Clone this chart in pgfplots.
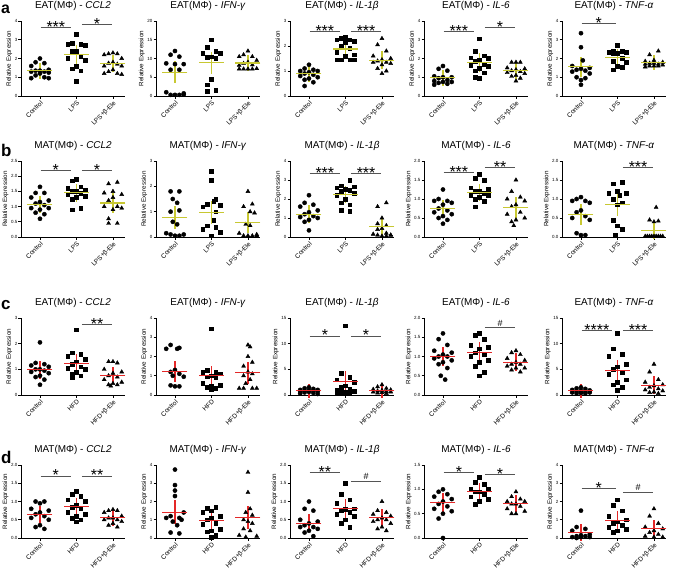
\documentclass[border=0pt]{standalone}
\usepackage{fontspec}
\setmainfont{Liberation Sans}
\usepackage{pgfplots}
\pgfplotsset{compat=1.18}
\definecolor{ylw}{RGB}{200,200,50}
\definecolor{rd}{RGB}{228,40,40}
\definecolor{sg}{RGB}{85,85,85}
\pgfplotsset{
 panel/.style={scale only axis, width=104bp, anchor=north west,
  axis lines=left, axis line style={-, line width=0.8bp, black},
  xmin=-0.52, xmax=2.33, ymin=0, xtick={0,1,2},
  tick align=outside, tick pos=left, major tick length=2.5bp,
  tick style={line width=0.7bp, black}, clip=false,
  /pgf/number format/assume math mode=true,
  yticklabel style={font=\fontsize{4.5}{5}\selectfont, inner sep=1bp},
  x tick label style={rotate=45, anchor=north east, font=\fontsize{6.5}{7}\selectfont, inner sep=1bp},
  ylabel={Relative Expression}, ylabel style={font=\fontsize{6.3}{7}\selectfont, yshift=-2bp},
  title style={font=\fontsize{10}{12}\selectfont, yshift=1bp}},
 dec/.style={yticklabel style={/pgf/number format/.cd, fixed, fixed zerofill, precision=1}},
 lps/.style={xticklabels={Control,LPS,LPS+β-Ele}},
 hfd/.style={xticklabels={Control,HFD,HFD+β-Ele}},
 msd/.style={only marks, mark=-, mark size=12.5bp, mark options={line width=1.1bp, draw=#1}, draw=#1,
  error bars/.cd, y dir=both, y explicit, error bar style={line width=1.1bp, draw=#1},
  error mark=|, error mark options={rotate=90, mark size=6.5bp, line width=1.1bp, draw=#1}},
}
\newcommand\C[1]{\addplot[only marks, mark=*, mark size=2.1bp, black] coordinates {#1};}
\newcommand\Q[1]{\addplot[only marks, mark=square*, mark size=1.85bp, black] coordinates {#1};}
\newcommand\T[1]{\addplot[only marks, mark=triangle*, mark size=2.3bp, black] coordinates {#1};}
\newcommand\sig[4]{\draw[sg, line width=0.9bp] (axis cs:#1,#3) -- (axis cs:#2,#3) node[midway, anchor=base, yshift=-5bp, font=\fontsize{16}{16}\selectfont, text=black, inner sep=0] {#4};}
\newcommand\sigh[3]{\draw[sg, line width=0.9bp] (axis cs:#1,#3) -- (axis cs:#2,#3) node[midway, anchor=south, yshift=1bp, font=\fontsize{9}{9}\selectfont, text=black, inner sep=0] {\#};}
\newcommand\panel[6]{\begin{axis}[panel, at={(#1bp,-#2bp)}, height=#3bp, title={#4}, #5]
#6
\end{axis}}
\begin{document}
\begin{tikzpicture}
\path[use as bounding box] (0,0) rectangle (685bp,-575bp);
\node[anchor=base west, font=\bfseries\fontsize{16}{16}\selectfont, inner sep=0] at (1bp,-13bp) {a};
\node[anchor=base west, font=\bfseries\fontsize{17}{17}\selectfont, inner sep=0] at (1bp,-156bp) {b};
\node[anchor=base west, font=\bfseries\fontsize{17}{17}\selectfont, inner sep=0] at (1bp,-309bp) {c};
\node[anchor=base west, font=\bfseries\fontsize{17}{17}\selectfont, inner sep=0] at (1bp,-463bp) {d};
% ---------------- row a
\panel{21}{21}{75}{EAT(MΦ) - \textit{CCL2}}{lps, ymax=4, ytick={0,1,2,3,4}}{
\C{(0,2.0)(-0.12,1.8)(0.12,1.75)(-0.24,1.6)(0.24,1.4)(0,1.35)(-0.12,1.35)(0.12,1.3)(-0.24,1.3)(0.24,1.25)(0,1.2)(-0.12,1.1)(0.12,1.0)(-0.24,0.95)(0.24,0.95)}
\Q{(1,3.3)(0.88,2.8)(1.12,2.75)(0.76,2.75)(1.24,2.7)(1,2.4)(0.88,2.4)(1.12,2.1)(0.76,2.0)(1.24,1.9)(1,1.6)(0.88,1.45)(1.12,1.35)(1,0.8)}
\T{(2,2.3)(1.88,2.25)(2.12,2.25)(1.76,2.2)(2.24,2.0)(2,1.8)(1.88,1.75)(2.12,1.7)(1.76,1.6)(2.24,1.6)(2,1.4)(1.88,1.3)(2.12,1.2)(1.76,1.2)(2.24,1.15)}
\addplot[msd=ylw] coordinates {(0,1.35)+-(0,0.08) (1,2.2)+-(0,0.18) (2,1.75)+-(0,0.1)};
\sig{0.02}{0.85}{3.68}{***}\sig{1.15}{1.98}{3.82}{*}}
\panel{156}{21}{75}{EAT(MΦ) - \textit{IFN-γ}}{lps, ymax=20, ytick={0,5,10,15,20}}{
\C{(0,12)(-0.12,11)(0.12,10.5)(-0.24,8.7)(0.24,8.5)(0,8.5)(-0.12,7)(0.12,7)(-0.24,1.0)(0.24,0.7)(0,0.3)(-0.12,0.3)(0.12,0.3)(0.24,0.4)}
\Q{(1,15)(0.88,13)(1.12,12)(0.76,11.5)(1.24,11.5)(1,10.5)(0.88,10.3)(1.12,10)(1,4.5)(0.88,3.0)(1.12,1.5)(0.88,1.2)}
\T{(2,12)(1.88,11)(2.12,10.5)(1.76,10.5)(2.24,9.5)(2,9)(1.88,8.7)(2.12,8.3)(1.76,8.2)(2.24,7.3)(2,7.2)(1.88,7.2)(2.12,7.2)(1.76,7.2)}
\addplot[msd=ylw] coordinates {(0,6.3)+-(0,1.2) (1,8.9)+-(0,1.2) (2,8.8)+-(0,0.5)};}
\panel{290}{21}{75}{EAT(MΦ) - \textit{IL-1β}}{lps, ymax=3, ytick={0,1,2,3}}{
\C{(0,1.25)(-0.12,1.1)(0.12,1.05)(-0.24,1.0)(0.24,1.0)(0,0.95)(-0.12,0.9)(0.12,0.85)(-0.24,0.8)(0.24,0.75)(0,0.7)(-0.12,0.65)(0.12,0.55)(-0.12,0.4)}
\Q{(1,2.35)(0.88,2.3)(1.12,2.25)(0.76,2.25)(1.24,2.2)(1,2.15)(0.88,2.0)(1.12,1.9)(0.76,1.75)(1.24,1.65)(1,1.6)(0.88,1.45)(1.12,1.45)(0.76,1.45)(1.24,1.45)}
\T{(2,2.3)(1.88,2.05)(2.12,1.8)(1.76,1.6)(2.24,1.5)(2,1.45)(1.88,1.4)(2.12,1.35)(1.76,1.35)(2.24,1.3)(2,1.25)(1.88,1.1)(2.12,1.0)(2,0.9)}
\addplot[msd=ylw] coordinates {(0,0.9)+-(0,0.06) (1,1.88)+-(0,0.1) (2,1.43)+-(0,0.1)};
\sig{0.02}{0.85}{2.6}{***}\sig{1.15}{1.98}{2.6}{***}}
\panel{424}{21}{75}{EAT(MΦ) - \textit{IL-6}}{lps, ymax=4, ytick={0,1,2,3,4}}{
\C{(0,1.6)(-0.12,1.45)(0.12,1.35)(-0.24,1.05)(0.24,1.0)(0,1.0)(-0.12,0.95)(0.12,0.85)(-0.24,0.8)(0.24,0.75)(0,0.75)(-0.12,0.7)(0.12,0.65)(-0.24,0.6)}
\Q{(1,3.05)(0.88,2.4)(1.12,2.15)(0.76,2.05)(1.24,2.0)(1,1.9)(0.88,1.85)(1.12,1.7)(0.76,1.65)(1.24,1.6)(1,1.5)(0.88,1.35)(1.12,1.25)(0.88,1.0)(1,0.95)}
\T{(2,1.8)(1.88,1.8)(2.12,1.8)(1.76,1.5)(2.24,1.45)(2,1.4)(1.88,1.35)(2.12,1.3)(1.76,1.25)(2.24,1.2)(2,1.1)(1.88,1.05)(2.12,0.95)(2,0.8)}
\addplot[msd=ylw] coordinates {(0,0.98)+-(0,0.08) (1,1.8)+-(0,0.15) (2,1.35)+-(0,0.08)};
\sig{0.02}{0.85}{3.45}{***}\sig{1.15}{1.98}{3.65}{*}}
\panel{562}{21}{75}{EAT(MΦ) - \textit{TNF-α}}{lps, ymax=4, ytick={0,1,2,3,4}}{
\C{(0,3.35)(0,2.6)(0.05,1.9)(-0.24,1.6)(0.24,1.5)(0,1.45)(-0.12,1.4)(0.12,1.35)(-0.24,1.3)(0.24,1.2)(-0.12,1.0)(0.12,0.95)(0,0.85)(0,0.6)}
\Q{(1,2.7)(0.88,2.4)(1.12,2.4)(0.76,2.35)(1.24,2.35)(1,2.3)(0.88,2.3)(1.12,2.0)(0.88,1.85)(1.24,1.8)(1,1.6)(1.12,1.55)(0.88,1.4)}
\T{(2.12,2.4)(1.88,2.2)(2,1.9)(1.76,1.85)(2.24,1.8)(2,1.75)(1.88,1.75)(2.12,1.7)(1.76,1.7)(2.24,1.65)(2,1.6)(1.88,1.6)(2.12,1.6)(1.76,1.55)}
\addplot[msd=ylw] coordinates {(0,1.55)+-(0,0.2) (1,2.05)+-(0,0.1) (2,1.78)+-(0,0.05)};
\sig{0.02}{0.95}{3.85}{*}}
% ---------------- row b
\panel{21}{161}{76}{MAT(MΦ) - \textit{CCL2}}{lps, dec, ymax=2.5, ytick={0,0.5,1,1.5,2,2.5}}{
\C{(0,1.65)(-0.12,1.45)(0.12,1.45)(-0.24,1.3)(0.24,1.2)(0,1.15)(-0.12,1.1)(0.12,1.05)(-0.24,0.95)(0.24,0.95)(0,0.9)(-0.12,0.8)(0.12,0.75)(0,0.6)}
\Q{(1,1.9)(0.88,1.85)(1.12,1.65)(0.76,1.6)(1.24,1.55)(1,1.5)(0.88,1.5)(1.12,1.45)(0.76,1.4)(1.24,1.35)(1,1.3)(0.88,1.25)(1.12,0.95)(0.88,0.9)}
\T{(2.12,1.8)(1.88,1.75)(2,1.5)(1.76,1.45)(2.24,1.4)(2,1.3)(1.88,1.2)(2.12,1.0)(1.76,1.0)(2.24,0.95)(2,0.9)(1.88,0.6)(1.88,0.45)(2.12,0.45)}
\addplot[msd=ylw] coordinates {(0,1.08)+-(0,0.07) (1,1.45)+-(0,0.07) (2,1.12)+-(0,0.12)};
\sig{0.02}{0.85}{2.2}{*}\sig{1.15}{1.98}{2.2}{*}}
\panel{156}{161}{76}{MAT(MΦ) - \textit{IFN-γ}}{lps, ymax=3, ytick={0,1,2,3}}{
\C{(-0.12,1.8)(0.12,1.8)(-0.06,1.5)(0.06,1.35)(0.12,1.05)(-0.12,1.0)(-0.06,0.6)(0.06,0.5)(-0.24,0.15)(-0.12,0.1)(0,0.05)(0.12,0.05)(0.24,0.1)}
\Q{(1,2.6)(1,2.25)(1.12,1.5)(1.06,1.4)(0.88,1.3)(1.24,1.25)(0.76,1.2)(1.12,1.0)(1.06,0.65)(0.88,0.45)(1.12,0.4)(0.76,0.3)(1.24,0.2)(1,0.05)}
\T{(2,1.8)(2.12,1.3)(1.88,1.2)(2.06,1.0)(2.18,0.95)(1.94,0.5)(2.06,0.45)(1.76,0.15)(2.24,0.1)(1.88,0.05)(2,0.05)(2.12,0.05)(2.24,0.05)}
\addplot[msd=ylw] coordinates {(0,0.78)+-(0,0.2) (1,0.98)+-(0,0.2) (2,0.58)+-(0,0.17)};}
\panel{290}{161}{76}{MAT(MΦ) - \textit{IL-1β}}{lps, ymax=4, ytick={0,1,2,3,4}}{
\C{(0,2.2)(-0.12,1.8)(0.12,1.7)(-0.24,1.6)(0.24,1.4)(0,1.3)(-0.12,1.2)(0.12,1.1)(-0.24,1.05)(0.24,1.0)(0,0.9)(-0.12,0.8)(0,0.35)}
\Q{(1.12,3.0)(0.88,2.7)(1.24,2.65)(0.76,2.6)(1,2.5)(1.12,2.45)(0.88,2.4)(1.24,2.3)(0.76,2.2)(1,2.0)(0.88,1.8)(1.12,1.7)(0.88,1.4)(1.12,1.35)}
\T{(2.12,1.8)(1.88,1.6)(2,1.0)(1.88,0.7)(2.12,0.6)(2,0.45)(1.88,0.4)(2.12,0.2)(1.76,0.15)(2.24,0.1)(1.88,0.1)(2,0.05)(2.12,0.05)(2.24,0.1)}
\addplot[msd=ylw] coordinates {(0,1.2)+-(0,0.12) (1,2.25)+-(0,0.1) (2,0.55)+-(0,0.13)};
\sig{0.02}{0.85}{3.35}{***}\sig{1.15}{1.98}{3.35}{***}}
\panel{424}{161}{76}{MAT(MΦ) - \textit{IL-6}}{lps, dec, ymax=2, ytick={0,0.5,1,1.5,2}}{
\C{(0,1.25)(-0.12,1.0)(0.12,0.95)(-0.24,0.95)(0.24,0.9)(0,0.85)(-0.12,0.75)(0.12,0.7)(-0.24,0.65)(0.24,0.6)(0,0.55)(-0.12,0.5)(0.12,0.45)(0,0.35)}
\Q{(1,1.65)(0.88,1.55)(1.12,1.5)(0.76,1.3)(1.24,1.25)(1,1.2)(0.88,1.2)(1.12,1.15)(0.76,1.1)(1.24,1.1)(1,1.05)(0.88,1.0)(1.12,0.95)(0.88,0.8)}
\T{(2,1.5)(1.88,1.2)(2.12,1.05)(1.76,1.0)(2.24,0.95)(2,0.85)(1.88,0.8)(2.12,0.65)(1.76,0.6)(2.24,0.5)(2,0.45)(1.88,0.4)(1.94,0.3)}
\addplot[msd=ylw] coordinates {(0,0.74)+-(0,0.07) (1,1.17)+-(0,0.06) (2,0.77)+-(0,0.1)};
\sig{0.02}{0.85}{1.71}{***}\sig{1.15}{1.98}{1.84}{**}}
\panel{562}{161}{76}{MAT(MΦ) - \textit{TNF-α}}{lps, dec, ymax=2, ytick={0,0.5,1,1.5,2}}{
\C{(0,1.05)(-0.12,1.0)(0.12,0.95)(-0.24,0.95)(0.24,0.9)(0,0.7)(-0.12,0.65)(0.12,0.55)(-0.24,0.5)(0.24,0.45)(-0.12,0.1)(0,0.05)(0.12,0.05)}
\Q{(1.12,1.45)(0.88,1.4)(1,1.2)(0.76,1.15)(1.24,1.15)(1.06,1.1)(0.88,1.0)(1.12,0.9)(1,0.85)(0.88,0.45)(1,0.3)(1.12,0.2)(0.94,0.05)}
\T{(2.06,0.78)(1.88,0.45)(2.12,0.42)(2,0.4)(1.76,0.02)(1.82,0.02)(1.88,0.02)(1.94,0.02)(2,0.02)(2.06,0.02)(2.12,0.02)(2.18,0.02)(2.24,0.02)}
\addplot[msd=ylw] coordinates {(0,0.6)+-(0,0.1) (1,0.85)+-(0,0.12) (2,0.18)+-(0,0.07)};
\sig{1.15}{1.98}{1.82}{***}}
% ---------------- row c
\panel{21}{318}{77}{EAT(MΦ) - \textit{CCL2}}{hfd, ymax=3, ytick={0,1,2,3}}{
\C{(0,2.05)(-0.12,1.25)(0.12,1.2)(-0.24,1.15)(0.24,1.1)(0,1.0)(-0.12,1.0)(0.12,0.95)(-0.24,0.9)(0.24,0.85)(0,0.75)(-0.12,0.7)(0.12,0.6)(0,0.4)}
\Q{(1,2.55)(0.88,1.65)(1.12,1.6)(0.76,1.5)(1.24,1.4)(1,1.3)(0.88,1.2)(1.12,1.1)(0.76,1.05)(1.24,1.0)(1,0.9)(0.88,0.8)(1.12,0.75)(0.88,0.7)}
\T{(2,1.3)(1.88,1.3)(2.12,1.25)(1.76,1.0)(2.24,0.9)(2,0.85)(1.88,0.75)(2.12,0.7)(1.76,0.6)(2.24,0.5)(2,0.45)(1.88,0.4)(2.12,0.4)(1.94,0.35)}
\addplot[msd=rd] coordinates {(0,0.98)+-(0,0.1) (1,1.22)+-(0,0.13) (2,0.77)+-(0,0.08)};
\sig{1.15}{1.98}{2.75}{**}}
\panel{156}{318}{77}{EAT(MΦ) - \textit{IFN-γ}}{hfd, ymax=4, ytick={0,1,2,3,4}}{
\C{(-0.12,2.6)(0.12,2.45)(-0.24,2.4)(0.06,2.4)(0,1.3)(-0.12,1.2)(0.12,1.1)(-0.06,1.0)(0.24,0.95)(-0.12,0.5)(0.12,0.45)(0,0.45)}
\Q{(1,3.45)(0.88,1.3)(1.12,1.2)(0.76,1.2)(1.24,1.1)(1,1.0)(0.88,0.95)(1.12,0.9)(0.76,0.6)(1.24,0.5)(1,0.45)(0.88,0.4)(1.12,0.35)(1,0.3)}
\T{(2,2.6)(2.06,2.5)(2,2.0)(2.12,1.7)(1.88,1.5)(2,1.2)(2.12,1.1)(1.88,1.0)(2.06,0.8)(1.94,0.6)(1.76,0.35)(1.88,0.35)(2.12,0.35)(2.24,0.35)}
\addplot[msd=rd] coordinates {(0,1.22)+-(0,0.2) (1,1.02)+-(0,0.17) (2,1.15)+-(0,0.22)};}
\panel{290}{318}{77}{EAT(MΦ) - \textit{IL-1β}}{hfd, ymax=15, ytick={0,5,10,15}}{
\C{(0,1.5)(-0.12,1.3)(0.12,1.2)(-0.24,1.0)(0.24,1.0)(0,0.9)(-0.12,0.8)(0.12,0.8)(-0.24,0.7)(0.24,0.7)(0,0.6)(-0.12,0.5)(0.12,0.4)(-0.24,0.3)(0.24,0.2)}
\Q{(1,13.5)(0.88,4.2)(1.12,3.5)(0.76,3.0)(1.24,2.5)(1,1.8)(0.88,1.5)(1.12,1.2)(0.76,1.0)(1.24,0.8)(1,0.6)(0.88,0.5)(1.12,0.4)(0.76,0.4)}
\T{(2,2.0)(1.88,1.6)(2.12,1.3)(1.76,1.1)(2.24,1.0)(2,0.9)(1.88,0.8)(2.12,0.7)(1.76,0.6)(2.24,0.6)(2,0.5)(1.88,0.4)(2.12,0.3)}
\addplot[msd=rd] coordinates {(0,0.85)+-(0,0.1) (1,2.6)+-(0,0.9) (2,0.85)+-(0,0.15)};
\sig{0.02}{0.85}{11.5}{*}\sig{1.15}{1.98}{11.5}{*}}
\panel{424}{318}{77}{EAT(MΦ) - \textit{IL-6}}{hfd, dec, ymax=2, ytick={0,0.5,1,1.5,2}}{
\C{(0,1.6)(-0.12,1.45)(0.12,1.3)(-0.24,1.15)(0.24,1.1)(0,1.05)(-0.12,1.0)(0.12,1.0)(-0.24,0.95)(0.24,0.9)(0,0.85)(-0.12,0.8)(0.12,0.7)(-0.06,0.5)(0.06,0.4)}
\Q{(1,1.6)(0.88,1.55)(1.12,1.45)(0.76,1.3)(1.24,1.25)(1,1.2)(0.88,1.1)(1.12,1.05)(0.76,1.0)(1.24,0.9)(1,0.85)(0.88,0.75)(1.12,0.6)(1,0.5)}
\T{(2,1.15)(1.88,1.1)(2.12,1.05)(1.76,0.95)(2.24,0.9)(2,0.85)(1.88,0.8)(2.12,0.8)(1.76,0.75)(2.24,0.7)(2,0.7)(1.88,0.65)(2.12,0.6)}
\addplot[msd=rd] coordinates {(0,1.0)+-(0,0.08) (1,1.1)+-(0,0.1) (2,0.85)+-(0,0.06)};
\sigh{1.15}{1.98}{1.75}}
\panel{562}{318}{77}{EAT(MΦ) - \textit{TNF-α}}{hfd, ymax=15, ytick={0,5,10,15}}{
\C{(0,1.5)(-0.12,1.3)(0.12,1.2)(-0.24,1.0)(0.24,0.9)(0,0.8)(-0.12,0.7)(0.12,0.6)(-0.24,0.5)(0.24,0.5)(0,0.4)(-0.12,0.3)(0.12,0.3)}
\Q{(1,12)(0.88,9)(1.12,8)(0.76,7.5)(1.24,6)(1,5.5)(0.88,5)(1.12,4.5)(0.76,4)(1.24,3)(1,2.5)(0.88,2)(1.12,1.5)(1,1)}
\T{(2,6)(1.88,4.5)(2.12,3)(1.76,2.5)(2.24,2.0)(2,1.8)(1.88,1.5)(2.12,1.2)(1.76,1.0)(2.24,0.8)(2,0.6)(1.88,0.5)(2.12,0.3)}
\addplot[msd=rd] coordinates {(0,0.8)+-(0,0.1) (1,4.8)+-(0,0.8) (2,1.9)+-(0,0.5)};
\sig{0.02}{0.85}{12.5}{****}\sig{1.15}{1.98}{12.5}{***}}
% ---------------- row d
\panel{21}{465}{73}{MAT(MΦ) - \textit{CCL2}}{hfd, dec, ymax=2, ytick={0,0.5,1,1.5,2}}{
\C{(-0.12,1.0)(0.12,1.0)(0,0.95)(-0.24,0.8)(0.24,0.75)(0,0.7)(-0.12,0.65)(0.12,0.6)(-0.24,0.55)(0.24,0.5)(0,0.35)(-0.12,0.3)(0.12,0.25)}
\Q{(1,1.28)(0.88,1.2)(1.12,1.15)(0.76,1.05)(1.24,1.0)(1,0.9)(0.88,0.85)(1.12,0.8)(0.76,0.7)(1.24,0.65)(1,0.6)(0.88,0.55)(1.12,0.5)(1,0.45)}
\T{(2,0.78)(1.88,0.75)(2.12,0.75)(1.76,0.7)(2.24,0.6)(2,0.55)(1.88,0.55)(2.12,0.5)(1.76,0.5)(2.24,0.45)(2,0.4)(1.88,0.35)(2.12,0.3)}
\addplot[msd=rd] coordinates {(0,0.64)+-(0,0.06) (1,0.86)+-(0,0.07) (2,0.55)+-(0,0.04)};
\sig{0.02}{0.85}{1.7}{*}\sig{1.15}{1.98}{1.7}{**}}
\panel{156}{465}{73}{MAT(MΦ) - \textit{IFN-γ}}{hfd, ymax=4, ytick={0,1,2,3,4}}{
\C{(0,3.75)(0,2.9)(0,2.6)(0,2.3)(0.24,1.4)(-0.12,1.2)(0.12,1.1)(-0.24,1.1)(0.18,1.0)(-0.06,0.9)(0.06,0.7)(-0.12,0.3)(0.12,0.25)}
\Q{(1.12,1.7)(0.88,1.65)(1,1.5)(0.76,1.4)(1.24,1.2)(1,1.1)(0.88,1.0)(1.12,0.8)(0.76,0.75)(1.24,0.5)(1,0.4)(0.88,0.35)(1.12,0.15)(1,0.05)}
\T{(2,3.6)(2,2.5)(2.06,1.6)(1.94,1.4)(2.12,1.25)(1.88,1.0)(2,0.9)(2.12,0.8)(1.88,0.5)(2.06,0.4)(1.76,0.15)(2.24,0.1)(1.94,0.05)}
\addplot[msd=rd] coordinates {(0,1.42)+-(0,0.28) (1,0.95)+-(0,0.15) (2,1.12)+-(0,0.27)};}
\panel{290}{465}{73}{MAT(MΦ) - \textit{IL-1β}}{hfd, dec, ymax=2, ytick={0,0.5,1,1.5,2}}{
\C{(0,1.0)(-0.12,0.8)(0.12,0.75)(-0.24,0.5)(0.24,0.45)(0,0.4)(-0.12,0.35)(0.12,0.3)(-0.24,0.3)(0.24,0.25)(0,0.2)(-0.12,0.15)(0.12,0.05)}
\Q{(1,1.5)(0.88,1.2)(1.12,1.05)(0.76,0.95)(1.24,0.8)(1,0.78)(0.88,0.75)(1.12,0.7)(0.76,0.65)(1.24,0.6)(1,0.5)(0.88,0.4)(1.12,0.3)}
\T{(2,1.0)(1.88,0.75)(2.12,0.7)(1.76,0.65)(2.24,0.6)(2,0.55)(1.88,0.5)(2.12,0.5)(1.76,0.45)(2.24,0.4)(2,0.3)(1.88,0.25)(2.12,0.2)}
\addplot[msd=rd] coordinates {(0,0.4)+-(0,0.07) (1,0.8)+-(0,0.08) (2,0.55)+-(0,0.06)};
\sig{0.02}{0.85}{1.8}{**}\sigh{1.15}{1.98}{1.55}}
\panel{424}{465}{73}{MAT(MΦ) - \textit{IL-6}}{hfd, dec, ymax=1.5, ytick={0,0.5,1,1.5}}{
\C{(0,1.0)(-0.12,0.95)(0.12,0.9)(-0.24,0.85)(0.24,0.8)(0,0.75)(-0.12,0.7)(0.12,0.65)(-0.24,0.6)(0.24,0.55)(0,0.5)(-0.12,0.4)(0,0.0)}
\Q{(1,1.25)(0.88,1.15)(1.12,1.1)(0.76,1.0)(1.24,1.0)(1,0.95)(0.88,0.95)(1.12,0.9)(0.76,0.85)(1.24,0.8)(1,0.75)(0.88,0.7)}
\T{(2,0.95)(1.88,0.85)(2.12,0.8)(1.76,0.75)(2.24,0.75)(2,0.7)(1.88,0.7)(2.12,0.65)(1.76,0.6)(2.24,0.55)(2,0.5)(1.88,0.5)}
\addplot[msd=rd] coordinates {(0,0.73)+-(0,0.06) (1,0.95)+-(0,0.04) (2,0.7)+-(0,0.04)};
\sig{0.02}{0.85}{1.35}{*}\sig{1.15}{1.98}{1.3}{*}}
\panel{562}{465}{73}{MAT(MΦ) - \textit{TNF-α}}{hfd, ymax=4, ytick={0,1,2,3,4}}{
\C{(0,1.5)(-0.12,0.6)(0.12,0.5)(-0.24,0.4)(0.24,0.2)(0,0.15)(-0.12,0.1)(0.12,0.1)(-0.24,0.05)(0.24,0.05)(0,0.05)(-0.12,0.0)}
\Q{(1,2.1)(0.88,1.8)(1.12,1.5)(0.76,1.2)(1.24,1.0)(1,0.9)(0.88,0.8)(1.12,0.7)(0.76,0.6)(1.24,0.5)(1,0.4)(0.88,0.3)}
\T{(2,1.6)(1.88,1.2)(2.12,0.8)(1.76,0.6)(2.24,0.5)(2,0.4)(1.88,0.3)(2.12,0.2)(1.76,0.1)(2.24,0.05)(2,0.05)}
\addplot[msd=rd] coordinates {(0,0.3)+-(0,0.1) (1,0.95)+-(0,0.18) (2,0.5)+-(0,0.15)};
\sig{0.02}{0.95}{2.7}{*}\sigh{1.15}{1.98}{2.5}}
\end{tikzpicture}
\end{document}
